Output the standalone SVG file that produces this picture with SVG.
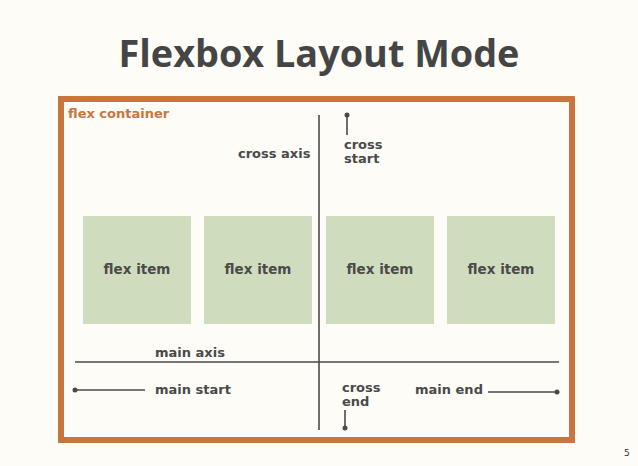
<svg xmlns="http://www.w3.org/2000/svg" width="638" height="466" viewBox="0 0 638 466">
<style>
.lbl{font-family:"DejaVu Sans","Liberation Sans",sans-serif;font-weight:bold;font-size:13px;fill:#4a4a4a}
.item rect{fill:#cfddbe}
.item text{font-family:"DejaVu Sans","Liberation Sans",sans-serif;font-weight:bold;font-size:13.5px;fill:#4a4a4a;text-anchor:middle}
.ln{stroke:#4a4a4a;stroke-width:1.6;fill:none}
.dot{fill:#4a4a4a}
</style>
<rect width="638" height="466" fill="#fdfcf7"/>
<text x="319" y="67" font-family="'Open Sans','Noto Sans',sans-serif" font-weight="bold" font-size="37.8" fill="#454545" text-anchor="middle">Flexbox Layout Mode</text>
<g id="container">
<rect x="61" y="99" width="511" height="341" fill="none" stroke="#c8763f" stroke-width="6"/>
<text x="68" y="118" font-family="'DejaVu Sans','Liberation Sans',sans-serif" font-weight="bold" font-size="13" fill="#c8763f">flex container</text>
</g>
<g id="item1" class="item"><rect x="83" y="216" width="108" height="108"/><text x="137" y="274">flex item</text></g>
<g id="item2" class="item"><rect x="204" y="216" width="108" height="108"/><text x="258" y="274">flex item</text></g>
<g id="item3" class="item"><rect x="326" y="216" width="108" height="108"/><text x="380" y="274">flex item</text></g>
<g id="item4" class="item"><rect x="447" y="216" width="108" height="108"/><text x="501" y="274">flex item</text></g>
<g id="connectors">
<line class="ln" x1="319" y1="115" x2="319" y2="430"/>
<line class="ln" x1="75" y1="362" x2="559" y2="362"/>
<line class="ln" x1="347" y1="115" x2="347" y2="135"/>
<circle class="dot" cx="347" cy="115" r="2.5"/>
<line class="ln" x1="345" y1="410" x2="345" y2="428"/>
<circle class="dot" cx="345" cy="428" r="2.5"/>
<line class="ln" x1="75" y1="390" x2="145" y2="390"/>
<circle class="dot" cx="75" cy="390" r="2.5"/>
<line class="ln" x1="488" y1="392" x2="557" y2="392"/>
<circle class="dot" cx="557" cy="392" r="2.5"/>
</g>
<g id="labels">
<text class="lbl" x="238" y="158">cross axis</text>
<text class="lbl" x="344" y="149">cross</text>
<text class="lbl" x="344" y="163">start</text>
<text class="lbl" x="155" y="357">main axis</text>
<text class="lbl" x="155" y="394">main start</text>
<text class="lbl" x="342" y="392">cross</text>
<text class="lbl" x="342" y="406">end</text>
<text class="lbl" x="415" y="394">main end</text>
<text x="624" y="456" font-family="'DejaVu Sans',sans-serif" font-size="9" fill="#333">5</text>
</g>
</svg>
